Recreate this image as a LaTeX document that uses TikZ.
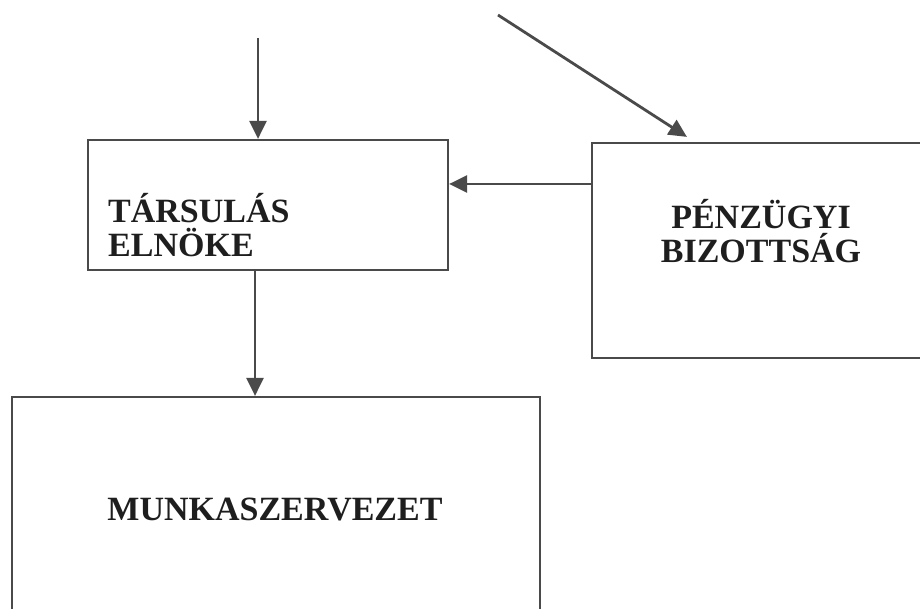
\documentclass[tikz,border=0pt]{standalone}
\usepackage{fontspec}
\setmainfont{Liberation Serif}
\usetikzlibrary{arrows.meta}
\definecolor{vonal}{HTML}{4A4A4A}
\definecolor{betu}{HTML}{1E1E1E}
\tikzset{doboz/.style={draw=vonal, line width=2.2pt, rectangle, inner sep=0pt},
felirat/.style={font=\fontsize{34}{34}\selectfont\bfseries, text=betu, inner sep=0pt},
nyil/.style={draw=vonal, line width=2.8pt, -{Triangle[length=18pt,width=17pt]}}}

\begin{document}
\begin{tikzpicture}[x=1pt,y=-1pt]
	\useasboundingbox (0,0) rectangle (920,609);
	\node[doboz, minimum width=360, minimum height=130] (elnok) at (268,205) {};
	\node[doboz, minimum width=338, minimum height=215] (penzugy) at (761,250.5) {};
	\node[doboz, minimum width=528, minimum height=250] (munka) at (276,522) {};
	\node[felirat, align=left, anchor=base west] (elnoktext) at (108,257) {TÁRSULÁS\\ELNÖKE};
	\node[felirat, align=center, anchor=base] (penzugytext) at (761,263) {PÉNZÜGYI\\BIZOTTSÁG};
	\node[felirat, anchor=base] (munkatext) at (275,520) {MUNKASZERVEZET};
	\coordinate (felso) at (258,38);
	\coordinate (ferde) at (498,15);
	\coordinate (vizsz) at (0,184);
	\coordinate (le) at (255,0);
	\draw[nyil] (felso) -- (felso |- elnok.north);
	\draw[nyil] (ferde) -- ([xshift=96pt,yshift=5pt]penzugy.north west);
	\draw[nyil] (penzugy.west |- vizsz) -- (elnok.east |- vizsz);
	\draw[nyil] (elnok.south -| le) -- (munka.north -| le);
\end{tikzpicture}
\end{document}
